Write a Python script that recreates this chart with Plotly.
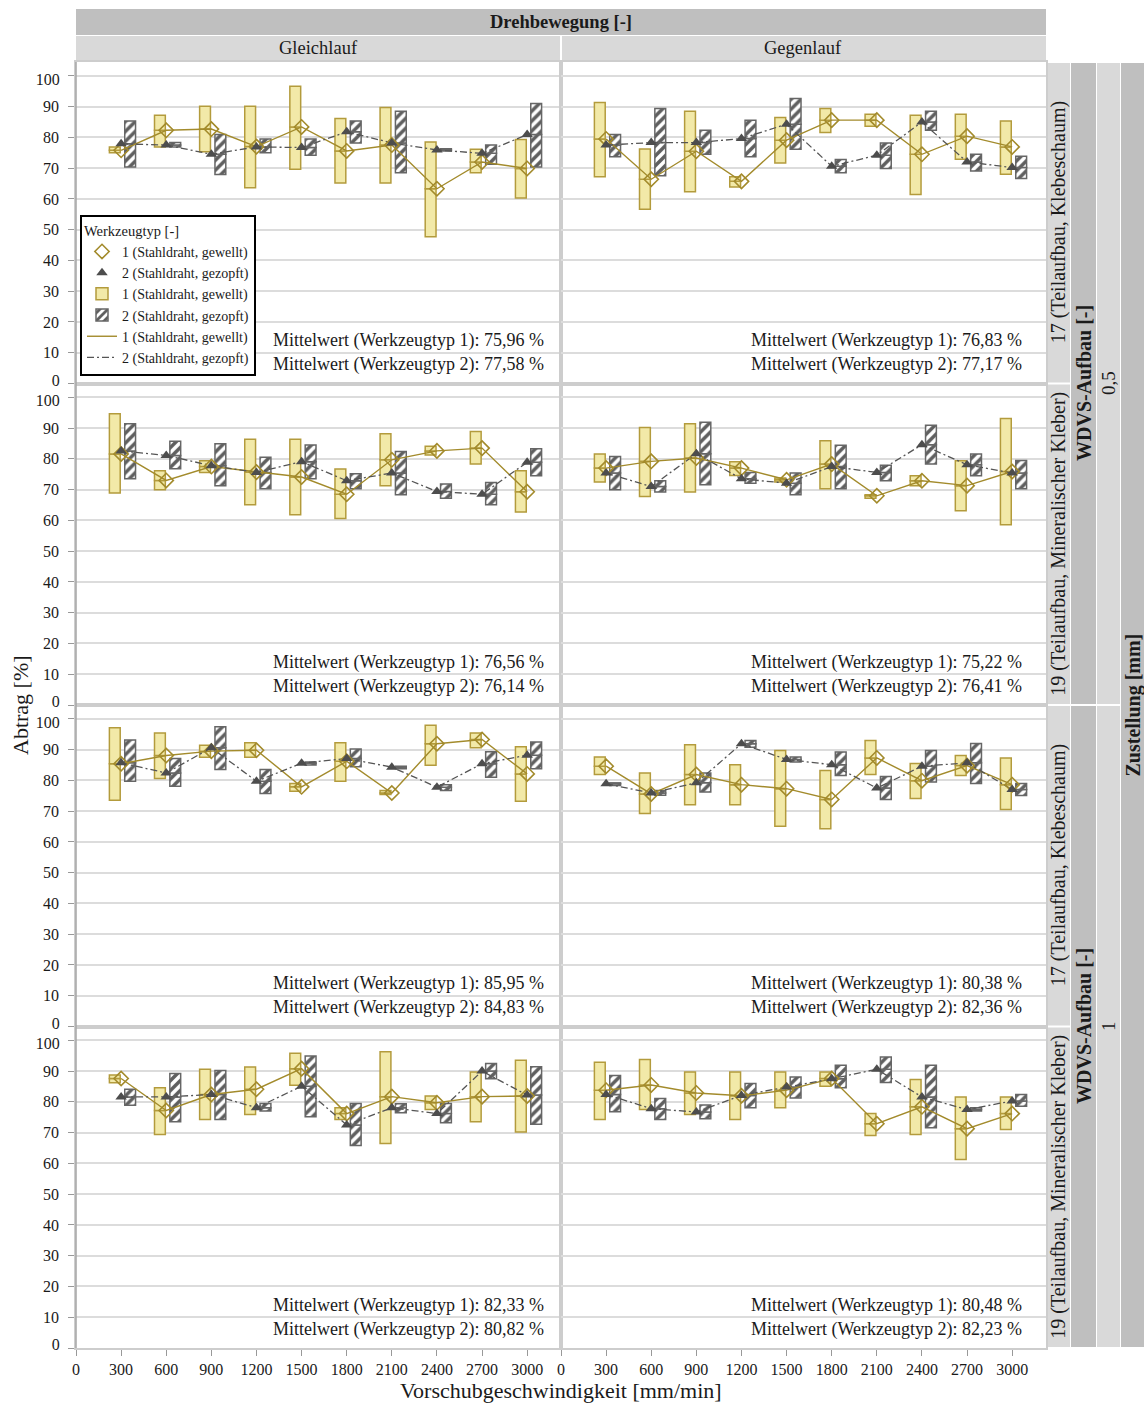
import plotly.graph_objects as go
from plotly.subplots import make_subplots

# ---------------- data ----------------
speeds = [300, 600, 900, 1200, 1500, 1800, 2100, 2400, 2700, 3000]
x_ticks = [0, 300, 600, 900, 1200, 1500, 1800, 2100, 2400, 2700, 3000]
y_ticks = [0, 10, 20, 30, 40, 50, 60, 70, 80, 90, 100]
y_edge_ticks = [0, 100]

col_labels = ["Gleichlauf", "Gegenlauf"]
row_labels = ["17 (Teilaufbau, Klebeschaum)", "19 (Teilaufbau, Mineralischer Kleber)",
              "17 (Teilaufbau, Klebeschaum)", "19 (Teilaufbau, Mineralischer Kleber)"]
zustellung_labels = ["0,5", "1"]
type_names = ["1 (Stahldraht, gewellt)", "2 (Stahldraht, gezopft)"]

# Panel A: Zustellung 0,5 / WDVS 17 / Gleichlauf
A_t1_mean = [75.8, 82.3, 82.7, 77.0, 83.4, 75.6, 77.5, 63.3, 72.0, 69.9]
A_t1_low = [75.0, 76.9, 75.3, 63.6, 69.6, 65.2, 65.2, 47.7, 68.5, 60.3]
A_t1_high = [76.9, 87.2, 90.1, 90.1, 96.6, 86.1, 89.7, 78.5, 76.1, 79.3]
A_t2_mean = [77.9, 77.5, 74.5, 76.9, 76.7, 81.8, 78.2, 75.9, 74.8, 80.9]
A_t2_low = [70.4, 76.9, 67.9, 75.0, 74.2, 78.2, 68.5, 75.6, 71.3, 70.4]
A_t2_high = [85.3, 78.3, 80.9, 79.5, 79.5, 85.3, 88.5, 76.3, 77.5, 91.0]

# Panel B: Zustellung 0,5 / WDVS 17 / Gegenlauf
B_t1_mean = [79.5, 66.4, 75.5, 65.7, 79.1, 85.6, 85.6, 74.5, 80.4, 76.9]
B_t1_low = [67.2, 56.6, 62.3, 63.9, 71.7, 81.6, 83.6, 61.4, 72.9, 68.0]
B_t1_high = [91.3, 76.2, 88.5, 67.2, 86.5, 89.4, 87.5, 87.2, 87.5, 85.3]
B_t2_mean = [77.5, 78.3, 78.3, 79.6, 84.3, 70.6, 74.2, 85.0, 72.0, 70.2]
B_t2_low = [73.7, 67.5, 74.5, 73.7, 76.1, 68.5, 69.9, 82.3, 69.1, 66.6]
B_t2_high = [80.9, 89.4, 82.3, 85.6, 92.6, 72.8, 78.2, 88.5, 74.5, 73.9]

# Panel C: Zustellung 0,5 / WDVS 19 / Gleichlauf
C_t1_mean = [81.6, 73.0, 77.5, 75.7, 74.1, 68.5, 79.7, 82.6, 83.5, 69.3]
C_t1_low = [68.9, 70.0, 75.6, 65.1, 61.8, 60.6, 71.3, 81.3, 78.3, 62.7]
C_t1_high = [94.7, 76.1, 79.4, 86.4, 86.4, 76.7, 88.2, 84.1, 88.9, 76.1]
C_t2_mean = [82.6, 81.1, 77.8, 75.6, 79.1, 72.9, 75.4, 69.4, 68.5, 78.9]
C_t2_low = [73.5, 76.8, 71.3, 70.3, 73.5, 70.3, 68.3, 67.2, 65.1, 74.5]
C_t2_high = [91.4, 85.7, 84.9, 80.5, 84.5, 75.2, 82.4, 71.8, 72.3, 83.3]

# Panel D: Zustellung 0,5 / WDVS 19 / Gegenlauf
D_t1_mean = [77.0, 79.2, 80.3, 77.0, 73.2, 78.3, 68.0, 72.9, 71.3, 75.9]
D_t1_low = [72.5, 67.8, 69.2, 74.6, 72.5, 70.3, 67.2, 71.3, 63.1, 58.6]
D_t1_high = [81.6, 90.2, 91.4, 79.1, 73.8, 85.9, 68.3, 74.5, 79.4, 93.1]
D_t2_mean = [75.4, 71.0, 81.7, 73.5, 72.1, 77.5, 75.6, 84.6, 78.1, 75.4]
D_t2_low = [70.0, 69.2, 71.6, 72.1, 68.3, 70.3, 72.9, 78.3, 74.5, 70.3]
D_t2_high = [80.8, 72.9, 91.9, 75.6, 75.4, 84.4, 77.9, 90.9, 81.6, 79.5]

# Panel E: Zustellung 1 / WDVS 17 / Gleichlauf
E_t1_mean = [85.4, 88.1, 89.5, 89.8, 77.9, 86.2, 75.9, 91.9, 93.3, 82.1]
E_t1_low = [73.5, 80.6, 87.5, 87.5, 76.5, 79.7, 75.4, 84.9, 90.6, 73.2]
E_t1_high = [97.1, 95.4, 91.4, 92.2, 79.0, 92.2, 76.7, 97.9, 95.4, 90.9]
E_t2_mean = [85.7, 82.4, 90.6, 79.7, 85.6, 87.1, 84.3, 77.8, 85.4, 88.2]
E_t2_low = [79.7, 78.1, 83.5, 75.7, 85.0, 84.4, 83.8, 76.7, 81.0, 83.8]
E_t2_high = [93.1, 87.1, 97.4, 83.5, 86.0, 90.2, 84.6, 78.6, 89.3, 92.5]

# Panel F: Zustellung 1 / WDVS 17 / Gegenlauf
F_t1_mean = [84.6, 75.6, 81.9, 78.6, 77.3, 73.8, 87.3, 79.9, 84.8, 78.6]
F_t1_low = [81.9, 69.2, 72.1, 72.1, 65.1, 64.3, 81.9, 74.1, 81.6, 70.5]
F_t1_high = [87.6, 82.4, 91.6, 85.1, 89.7, 83.2, 93.0, 85.5, 88.1, 87.3]
F_t2_mean = [78.9, 75.9, 79.2, 91.9, 86.8, 85.1, 77.5, 84.6, 85.7, 77.0]
F_t2_low = [78.3, 75.2, 76.2, 90.8, 86.0, 81.6, 73.8, 79.5, 79.0, 75.1]
F_t2_high = [79.2, 76.7, 82.4, 93.0, 87.6, 89.2, 81.3, 89.7, 92.0, 79.0]

# Panel G: Zustellung 1 / WDVS 19 / Gleichlauf
G_t1_mean = [87.6, 77.2, 82.4, 84.1, 90.8, 76.2, 81.7, 79.7, 81.7, 81.9]
G_t1_low = [86.2, 69.4, 74.3, 75.9, 85.4, 74.3, 66.5, 77.5, 73.5, 70.2]
G_t1_high = [88.7, 84.6, 90.6, 91.3, 95.8, 78.1, 96.3, 81.9, 89.7, 93.5]
G_t2_mean = [81.6, 81.6, 82.4, 78.1, 85.1, 72.5, 78.1, 76.2, 90.0, 82.2]
G_t2_low = [78.9, 73.5, 74.3, 77.0, 75.2, 65.8, 76.5, 73.2, 87.5, 72.7]
G_t2_high = [84.1, 89.2, 90.2, 79.5, 94.9, 79.5, 79.4, 79.5, 92.5, 91.4]

# Panel H: Zustellung 1 / WDVS 19 / Gegenlauf
H_t1_mean = [83.8, 85.5, 82.9, 82.0, 83.8, 87.6, 72.9, 78.4, 71.3, 76.2]
H_t1_low = [74.3, 77.5, 75.9, 74.3, 78.1, 85.1, 69.1, 69.4, 61.3, 71.0]
H_t1_high = [92.9, 93.8, 89.7, 89.7, 89.7, 89.7, 76.2, 87.3, 81.6, 81.6]
H_t2_mean = [82.4, 77.8, 76.7, 82.1, 84.8, 87.5, 90.6, 81.6, 77.5, 80.3]
H_t2_low = [76.8, 74.3, 74.5, 78.1, 81.3, 84.6, 86.3, 71.6, 77.0, 78.6]
H_t2_high = [88.6, 81.1, 79.0, 86.0, 88.1, 91.9, 94.6, 91.9, 78.1, 82.4]

# printed overall means per panel (A..H)
mittelwert_t1 = ["75,96", "76,83", "76,56", "75,22", "85,95", "80,38", "82,33", "80,48"]
mittelwert_t2 = ["77,58", "77,17", "76,14", "76,41", "84,83", "82,36", "80,82", "82,23"]

panels = [
    (1, 1, (A_t1_low, A_t1_mean, A_t1_high), (A_t2_low, A_t2_mean, A_t2_high)),
    (1, 2, (B_t1_low, B_t1_mean, B_t1_high), (B_t2_low, B_t2_mean, B_t2_high)),
    (2, 1, (C_t1_low, C_t1_mean, C_t1_high), (C_t2_low, C_t2_mean, C_t2_high)),
    (2, 2, (D_t1_low, D_t1_mean, D_t1_high), (D_t2_low, D_t2_mean, D_t2_high)),
    (3, 1, (E_t1_low, E_t1_mean, E_t1_high), (E_t2_low, E_t2_mean, E_t2_high)),
    (3, 2, (F_t1_low, F_t1_mean, F_t1_high), (F_t2_low, F_t2_mean, F_t2_high)),
    (4, 1, (G_t1_low, G_t1_mean, G_t1_high), (G_t2_low, G_t2_mean, G_t2_high)),
    (4, 2, (H_t1_low, H_t1_mean, H_t1_high), (H_t2_low, H_t2_mean, H_t2_high)),
]

# ---------------- styles ----------------
FONT = "Liberation Serif, Times New Roman, serif"
TXT = "#1a1a1a"
GOLD = "#a38b2c"
GOLD_EDGE = "#b39b3c"
YELLOW = "#f2e9a8"
DARK = "#4d4d4d"
HATCH = "#5f5f5f"
BOX_W = 72
Y_RANGE = [0, 104.5]
styles = [
    dict(offset=-78, bar_marker=dict(color=YELLOW, line=dict(color=GOLD_EDGE, width=1.5)),
         line=dict(color=GOLD, width=1.4),
         mk=dict(symbol="diamond-open", size=11, color=GOLD, line=dict(color=GOLD, width=1.6))),
    dict(offset=24, bar_marker=dict(color="white",
                                   pattern=dict(shape="/", fgcolor=HATCH, bgcolor="white",
                                                size=7, solidity=0.5, fillmode="replace"),
                                   line=dict(color="#666666", width=1.5)),
         line=dict(color="#555555", width=1.3, dash="7px,3px,2px,3px"),
         mk=dict(symbol="triangle-up", size=10, color=DARK)),
]

fig = make_subplots(rows=4, cols=2, horizontal_spacing=0, vertical_spacing=0)

for i, (r, c, t1, t2) in enumerate(panels):
    first = i == 0
    for t, (low, mean, high) in enumerate([t1, t2]):
        st = styles[t]
        lower = [m - l for l, m in zip(low, mean)]
        upper = [h - m for m, h in zip(mean, high)]
        fig.add_trace(go.Bar(x=speeds, y=lower, base=low, offset=st["offset"], width=BOX_W,
                             marker=st["bar_marker"], name=type_names[t], legendgroup=f"bar{t}",
                             legendrank=3 + t, showlegend=first, hoverinfo="skip"), row=r, col=c)
        fig.add_trace(go.Bar(x=speeds, y=upper, base=mean, offset=st["offset"], width=BOX_W,
                             marker=st["bar_marker"], name=type_names[t], legendgroup=f"bar{t}",
                             showlegend=False, hoverinfo="skip"), row=r, col=c)
    for t, (low, mean, high) in enumerate([t1, t2]):
        st = styles[t]
        fig.add_trace(go.Scatter(x=speeds, y=mean, mode="lines", line=st["line"],
                                 name=type_names[t], legendgroup=f"line{t}", legendrank=5 + t,
                                 showlegend=first), row=r, col=c)
    for t, (low, mean, high) in enumerate([t1, t2]):
        st = styles[t]
        fig.add_trace(go.Scatter(x=speeds, y=mean, mode="markers", marker=st["mk"],
                                 name=type_names[t], legendgroup=f"mk{t}", legendrank=1 + t,
                                 showlegend=first), row=r, col=c)
    # printed means
    xd = 0.969 if c == 1 else 0.955
    xref = f"x{'' if i == 0 else i + 1} domain"
    fig.add_annotation(row=r, col=c, x=xd, xref=xref, y=13.9,
                       text=f"Mittelwert (Werkzeugtyp 1): {mittelwert_t1[i]} %", showarrow=False,
                       xanchor="right", yanchor="middle", font=dict(size=18, family=FONT, color=TXT))
    fig.add_annotation(row=r, col=c, x=xd, xref=xref, y=6.1,
                       text=f"Mittelwert (Werkzeugtyp 2): {mittelwert_t2[i]} %", showarrow=False,
                       xanchor="right", yanchor="middle", font=dict(size=18, family=FONT, color=TXT))

W, H = 1144, 1405
L, R, T, B = 76, 98, 62, 57
PW, PH = W - L - R, H - T - B


def px_x(p):
    return (p - L) / PW


def px_y(p):
    return (H - B - p) / PH


fig.update_layout(
    width=W, height=H, margin=dict(l=L, r=R, t=T, b=B),
    plot_bgcolor="white", paper_bgcolor="white", barmode="overlay",
    font=dict(family=FONT, size=16, color=TXT),
    legend=dict(x=px_x(80), y=px_y(215), xanchor="left", yanchor="top",
                bordercolor="black", borderwidth=2, bgcolor="white",
                font=dict(size=14, family=FONT), tracegroupgap=0, itemwidth=30,
                title=dict(text="Werkzeugtyp [-]", font=dict(size=14.5, family=FONT))),
)

AX_LINE = "#cdcdcd"
fig.update_xaxes(range=[0, 3225], tickvals=x_ticks, showgrid=False, zeroline=False,
                 showline=True, mirror=True, linecolor=AX_LINE, linewidth=1.5,
                 ticks="", showticklabels=False, tickfont=dict(size=16, family=FONT))
fig.update_xaxes(row=4, ticks="outside", ticklen=6, tickcolor="#999999", showticklabels=True)
fig.update_yaxes(range=Y_RANGE, tickvals=y_ticks, showgrid=True, gridcolor="#dcdcdc",
                 gridwidth=1.5, zeroline=False, showline=True, mirror=True,
                 linecolor=AX_LINE, linewidth=1.5, ticks="", showticklabels=False,
                 tickfont=dict(size=16, family=FONT))
# inner labels on the main axes; 0 and 100 are drawn by overlay axes nudged inward
fig.update_yaxes(col=1, ticks="outside", ticklen=6, tickcolor="#999999", showticklabels=True,
                 ticklabelstandoff=6,
                 ticktext=["" if v in y_edge_ticks else str(v) for v in y_ticks])

# overlay axes carrying the 0 / 100 labels slightly pulled inside the panel
NUDGE, SCALE = 1.1, 0.978
ov_range = [(Y_RANGE[0] - NUDGE) / SCALE, (Y_RANGE[1] - NUDGE) / SCALE]
for k in range(4):
    idx = k * 2 + 1
    main = "y" if idx == 1 else f"y{idx}"
    xa = "x" if idx == 1 else f"x{idx}"
    new = 9 + k
    fig.update_layout(**{f"yaxis{new}": dict(
        overlaying=main, anchor=xa, side="left", range=ov_range, tickvals=y_edge_ticks,
        showgrid=False, zeroline=False, showline=False, ticks="outside", ticklen=6,
        ticklabelstandoff=6, tickcolor="rgba(0,0,0,0)", tickfont=dict(size=16, family=FONT),
        fixedrange=True)})
    fig.add_trace(go.Scatter(x=[None], y=[None], xaxis=xa, yaxis=f"y{new}",
                             showlegend=False, hoverinfo="skip"))

shapes = []
ann = []


def rect(x0, x1, y0, y1, color):
    shapes.append(dict(type="rect", xref="paper", yref="paper", x0=px_x(x0), x1=px_x(x1),
                       y0=px_y(y1), y1=px_y(y0), fillcolor=color, line=dict(width=0), layer="below"))


def label(x, y, text, size=17, angle=0, bold=False):
    ann.append(dict(xref="paper", yref="paper", x=px_x(x), y=px_y(y), showarrow=False,
                    text=f"<b>{text}</b>" if bold else text, textangle=angle,
                    xanchor="center", yanchor="middle", font=dict(size=size, family=FONT, color=TXT)))


LIGHT, MID = "#d9d9d9", "#bfbfbf"
# left axis line (darker than the panel borders)
shapes.append(dict(type="line", xref="paper", yref="paper", x0=0, x1=0, y0=0, y1=1,
                   line=dict(color="#a6a6a6", width=1.5)))
# top strips
rect(76, 1046, 9, 35, MID)
label(561, 22, "Drehbewegung [-]", size=18.5, bold=True)
rect(76, 560, 36, 61, LIGHT)
rect(562, 1046, 36, 61, LIGHT)
label(318, 48, col_labels[0], size=18.5)
label(803, 48, col_labels[1], size=18.5)

# right strips
row_h = PH / 4
for k in range(4):
    top = T + k * row_h
    rect(1047, 1070, top + 1, top + row_h - 1, LIGHT)
    label(1058.5, top + row_h / 2, row_labels[k], size=20, angle=-90)
for k in range(2):
    top = T + k * 2 * row_h
    rect(1071, 1096, top + 1, top + 2 * row_h - 1, MID)
    label(1083.5, top + row_h, "WDVS-Aufbau [-]", size=20, angle=-90, bold=True)
    rect(1097, 1120, top + 1, top + 2 * row_h - 1, LIGHT)
    label(1108.5, top + row_h, zustellung_labels[k], size=19, angle=-90)
rect(1121, 1144, T + 1, H - B - 1, MID)
label(1132.5, T + 2 * row_h, "Zustellung [mm]", size=20, angle=-90, bold=True)

# axis titles
label(20, 705, "Abtrag [%]", size=22, angle=-90)
label(561, 1390, "Vorschubgeschwindigkeit [mm/min]", size=22)

fig.update_layout(shapes=shapes)
for a in ann:
    fig.add_annotation(**a)

fig.write_html("out.html", config={"displayModeBar": False},
               post_script="document.body.style.margin='0';document.body.style.overflow='hidden';")
